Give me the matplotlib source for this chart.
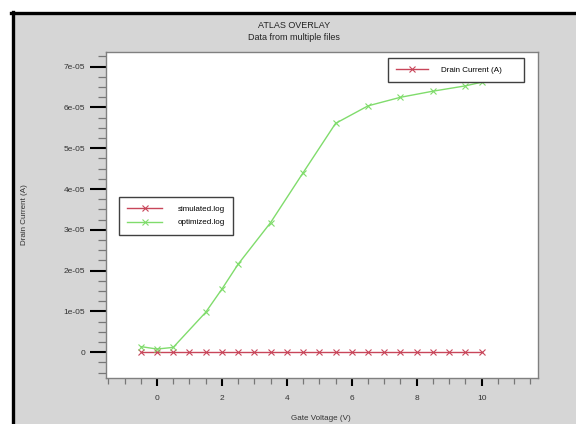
import numpy as np
import matplotlib
matplotlib.use("Agg")
import matplotlib.pyplot as plt
from matplotlib.lines import Line2D
from matplotlib.patches import Rectangle
from matplotlib.ticker import MultipleLocator, FuncFormatter

plt.rcParams['font.family'] = ['Liberation Sans', 'DejaVu Sans']

# simulated.log : drain current stays at zero
sim_vg = [-0.5, 0, 0.5, 1, 1.5, 2, 2.5, 3, 3.5, 4, 4.5, 5, 5.5, 6, 6.5,
          7, 7.5, 8, 8.5, 9, 9.5, 10]
sim_id = [0.0] * len(sim_vg)

# optimized.log
opt_vg = [-0.5, 0, 0.5, 1.5, 2, 2.5, 3.5, 4.5, 5.5, 6.5, 7.5, 8.5, 9.5, 10]
opt_id = [1.4e-6, 0.8e-6, 1.2e-6, 0.98e-5, 1.55e-5, 2.16e-5, 3.18e-5,
          4.40e-5, 5.61e-5, 6.04e-5, 6.25e-5, 6.40e-5, 6.53e-5, 6.62e-5]

red = '#c8465a'
green = '#80dc6c'

W, H = 576, 424
fig = plt.figure(figsize=(W/100, H/100), dpi=100, facecolor='white')

# grey panel with black frame on the top and left
fig.add_artist(Rectangle((12.5/W, -0.1), 1.2, 1.1 - 13.5/H,
                         transform=fig.transFigure, facecolor='#d6d6d6',
                         edgecolor='none', zorder=0))
fig.add_artist(Line2D([12.5/W, 12.5/W], [0, 1 - 12/H], color='black', lw=2.4,
                      transform=fig.transFigure))
fig.add_artist(Line2D([11/W, 1], [1 - 13/H, 1 - 13/H], color='black', lw=2.4,
                      transform=fig.transFigure))

ax = fig.add_axes([106/W, 1 - 378/H, 431.5/W, 326/H])
ax.set_facecolor('white')

ax.plot(sim_vg, sim_id, color=red, lw=1.0, marker='x', ms=5, mew=0.8)
ax.plot(opt_vg, opt_id, color=green, lw=1.0, marker='x', ms=5, mew=0.8)

ax.set_xlim(-1.57, 11.72)
ax.set_ylim(-0.63e-5, 7.36e-5)

ax.xaxis.set_major_locator(MultipleLocator(2))
ax.xaxis.set_minor_locator(MultipleLocator(0.5))
ax.yaxis.set_major_locator(MultipleLocator(1e-5))
ax.yaxis.set_minor_locator(MultipleLocator(0.25e-5))
ax.yaxis.set_major_formatter(FuncFormatter(lambda v, p: '0' if abs(v) < 1e-12 else f'{v:.0e}'))

for s in ax.spines.values():
    s.set_color('#808080')
    s.set_linewidth(1.0)

ax.tick_params(axis='y', which='major', direction='out', length=11.5, width=1.5,
               color='black', labelsize=6, labelcolor='#333333', pad=3.5)
ax.tick_params(axis='y', which='minor', direction='out', length=5.8, width=0.9,
               color='#777777')
ax.tick_params(axis='x', which='major', direction='out', length=5.8, width=1.5,
               color='black', labelsize=6, labelcolor='#333333', pad=6.5)
ax.tick_params(axis='x', which='minor', direction='out', length=4.2, width=0.9,
               color='#777777')

# legends
h1 = Line2D([], [], color=red, lw=1.0, marker='x', ms=5, mew=0.8)
leg1 = ax.legend([h1], ['Drain Current (A)      '], loc='upper right',
                 bbox_to_anchor=(0.968, 0.981), borderaxespad=0, fontsize=5.8,
                 fancybox=False, framealpha=1, edgecolor='#404040',
                 handlelength=4.0, handletextpad=1.6, borderpad=1.0)
leg1.get_frame().set_linewidth(1.0)
leg1.set_zorder(5)
ax.add_artist(leg1)

h2 = Line2D([], [], color=red, lw=1.0, marker='x', ms=5, mew=0.8)
h3 = Line2D([], [], color=green, lw=1.0, marker='x', ms=5, mew=0.8)
leg2 = ax.legend([h2, h3], ['simulated.log', 'optimized.log'], loc='upper left',
                 bbox_to_anchor=(0.030, 0.555), borderaxespad=0, fontsize=5.8,
                 fancybox=False, framealpha=1, edgecolor='#404040',
                 handlelength=4.4, handletextpad=1.9, borderpad=1.0,
                 labelspacing=0.75)
leg2.get_frame().set_linewidth(1.0)
leg2.set_zorder(5)

fig.text(294/W, 1 - 25/H, 'ATLAS OVERLAY', ha='center', va='center',
         fontsize=6.5, color='#222222')
fig.text(294/W, 1 - 37/H, 'Data from multiple files', ha='center', va='center',
         fontsize=6.5, color='#222222')
fig.text(25/W, 1 - 215/H, 'Drain Current (A)', rotation=90, ha='center',
         va='center', fontsize=5.8, color='#333333')
fig.text(321/W, 1 - 418/H, 'Gate Voltage (V)', ha='center', va='center',
         fontsize=5.8, color='#333333')

fig.savefig('out.png', dpi=100, facecolor=fig.get_facecolor())
